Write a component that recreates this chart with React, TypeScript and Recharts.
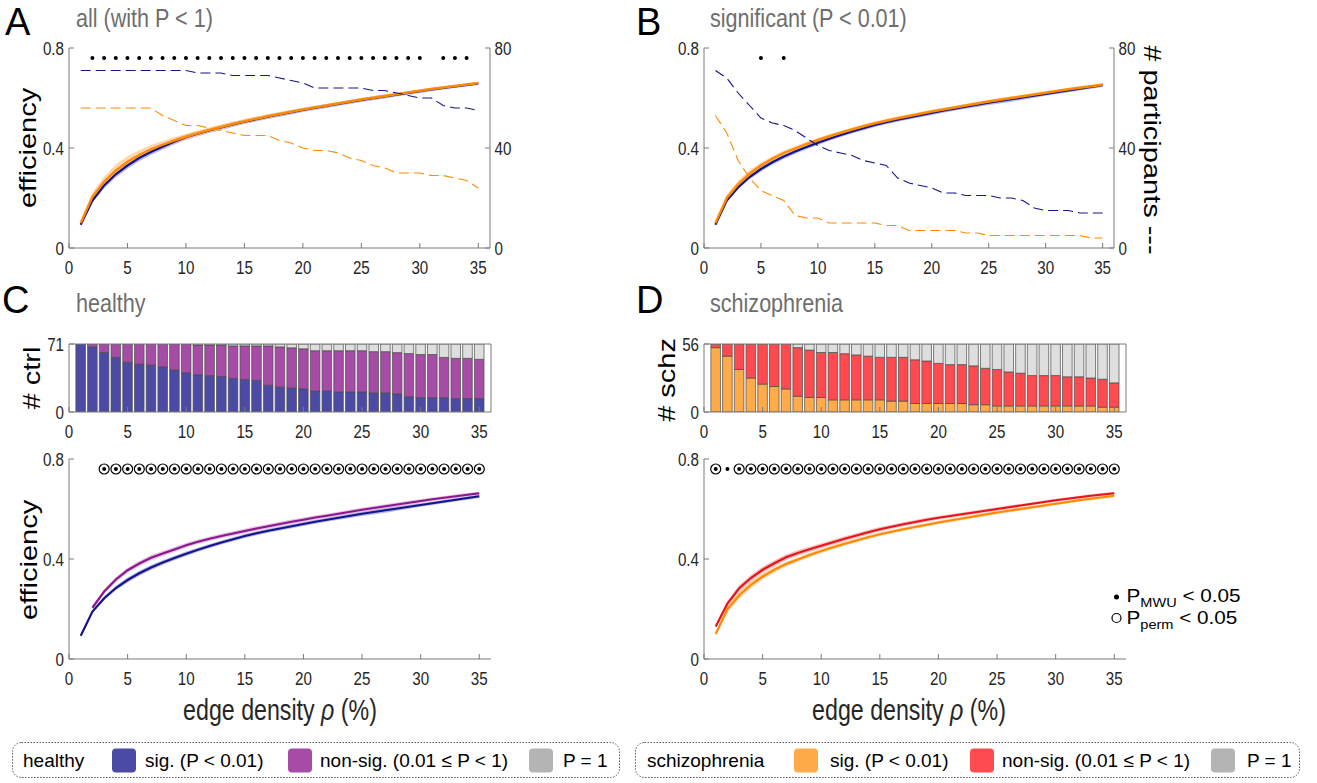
import React from "react";
import {
  ComposedChart,
  Line,
  Area,
  Bar,
  Scatter,
  XAxis,
  YAxis,
  ReferenceLine,
} from "recharts";

// edge density (%) shared by every panel
const DENSITY = [
  1, 2, 3, 4, 5, 6, 7, 8, 9, 10, 11, 12, 13, 14, 15, 16, 17, 18, 19, 20,
  21, 22, 23, 24, 25, 26, 27, 28, 29, 30, 31, 32, 33, 34, 35,
];
const X_TICKS = [0, 5, 10, 15, 20, 25, 30, 35];

// group sizes
const N_HEALTHY = 71;
const N_SCHZ = 56;

// participants with P < 1 and with P < 0.01
const HEALTHY_ALL_N = [
  71, 71, 71, 71, 71, 71, 71, 71, 71, 71, 70, 70, 70, 69, 69, 69, 69, 68, 67, 66,
  64, 64, 64, 64, 64, 63, 63, 62, 61, 60, 60, 57, 56, 56, 55,
];
const HEALTHY_SIG_N = [
  71, 68, 62, 57, 52, 50, 49, 47, 44, 41, 39, 38, 37, 35, 34, 33, 28, 26, 25, 24,
  22, 22, 21, 21, 21, 20, 20, 19, 16, 15, 15, 15, 14, 14, 14,
];
const SCHZ_ALL_N = [
  56, 56, 56, 56, 56, 56, 56, 53, 51, 49, 49, 48, 47, 46, 45, 45, 45, 43, 42, 40,
  39, 39, 38, 36, 35, 33, 32, 30, 30, 30, 29, 29, 28, 27, 24,
];
const SCHZ_SIG_N = [
  53, 46, 35, 28, 23, 21, 19, 13, 12, 12, 10, 10, 10, 10, 10, 9, 9, 7, 7, 7,
  7, 7, 6, 6, 5, 5, 5, 5, 5, 5, 5, 5, 5, 4, 4,
];

// mean efficiency per group
const EFF_HEALTHY_ALL = [
  0.093, 0.19, 0.25, 0.295, 0.33, 0.36, 0.384, 0.405, 0.425, 0.443, 0.457, 0.47,
  0.482, 0.494, 0.505, 0.515, 0.525, 0.534, 0.543, 0.552, 0.56, 0.568, 0.576,
  0.584, 0.592, 0.599, 0.606, 0.613, 0.62, 0.627, 0.634, 0.64, 0.646, 0.652, 0.658,
];
const EFF_SCHZ_ALL = [
  0.1, 0.205, 0.265, 0.31, 0.345, 0.372, 0.395, 0.413, 0.43, 0.445, 0.459, 0.472,
  0.484, 0.496, 0.507, 0.517, 0.527, 0.536, 0.545, 0.554, 0.562, 0.57, 0.578,
  0.586, 0.594, 0.601, 0.608, 0.615, 0.622, 0.629, 0.636, 0.642, 0.648, 0.654, 0.66,
];
const EFF_HEALTHY_SIG = [
  0.093, 0.19, 0.243, 0.284, 0.316, 0.343, 0.366, 0.386, 0.404, 0.421, 0.437,
  0.452, 0.466, 0.479, 0.492, 0.503, 0.513, 0.522, 0.531, 0.54, 0.549, 0.557,
  0.565, 0.573, 0.581, 0.588, 0.595, 0.602, 0.609, 0.616, 0.623, 0.63, 0.637,
  0.644, 0.651,
];
const EFF_HEALTHY_NON = [
  null, 0.205, 0.27, 0.318, 0.355, 0.382, 0.405, 0.422, 0.438, 0.455, 0.469,
  0.481, 0.492, 0.502, 0.512, 0.522, 0.531, 0.54, 0.549, 0.557, 0.566, 0.573,
  0.581, 0.589, 0.597, 0.604, 0.611, 0.618, 0.625, 0.632, 0.639, 0.645, 0.651,
  0.657, 0.663,
];
const EFF_SCHZ_SIG = [
  0.1, 0.2, 0.255, 0.297, 0.33, 0.357, 0.38, 0.398, 0.416, 0.432, 0.447, 0.461,
  0.474, 0.487, 0.499, 0.509, 0.519, 0.528, 0.537, 0.546, 0.554, 0.562, 0.57,
  0.578, 0.586, 0.593, 0.6, 0.607, 0.614, 0.621, 0.628, 0.635, 0.641, 0.647, 0.653,
];
const EFF_SCHZ_NON = [
  0.13, 0.222, 0.283, 0.324, 0.357, 0.383, 0.407, 0.424, 0.439, 0.453, 0.467,
  0.481, 0.494, 0.507, 0.519, 0.529, 0.539, 0.548, 0.557, 0.565, 0.572, 0.579,
  0.586, 0.593, 0.6, 0.607, 0.614, 0.621, 0.628, 0.635, 0.641, 0.647, 0.653,
  0.658, 0.663,
];

// half-width of the shaded error bands
const SPREAD_HEALTHY_ALL = [
  0.003, 0.009, 0.011, 0.013, 0.013, 0.013, 0.012, 0.012, 0.011, 0.011, 0.01, 0.01,
  0.01, 0.01, 0.009, 0.009, 0.009, 0.009, 0.009, 0.008, 0.008, 0.008, 0.008,
  0.008, 0.008, 0.008, 0.008, 0.007, 0.007, 0.007, 0.007, 0.006, 0.006, 0.006, 0.006,
];
const SPREAD_SCHZ_ALL = [
  0.004, 0.016, 0.02, 0.024, 0.022, 0.019, 0.017, 0.015, 0.013, 0.012, 0.011, 0.01,
  0.01, 0.009, 0.009, 0.008, 0.008, 0.008, 0.007, 0.007, 0.007, 0.006, 0.006,
  0.006, 0.006, 0.006, 0.006, 0.005, 0.005, 0.005, 0.005, 0.005, 0.005, 0.005, 0.005,
];
const SPREAD_HEALTHY_SIG = [
  0.003, 0.006, 0.008, 0.009, 0.01, 0.01, 0.01, 0.009, 0.009, 0.009, 0.008, 0.008,
  0.008, 0.008, 0.008, 0.008, 0.008, 0.008, 0.008, 0.008, 0.008, 0.008, 0.008,
  0.009, 0.009, 0.01, 0.01, 0.009, 0.008, 0.007, 0.007, 0.007, 0.007, 0.007, 0.007,
];
const SPREAD_HEALTHY_NON = [
  0, 0.006, 0.008, 0.01, 0.01, 0.01, 0.011, 0.01, 0.01, 0.009, 0.009, 0.009,
  0.009, 0.009, 0.009, 0.009, 0.009, 0.009, 0.009, 0.009, 0.008, 0.008, 0.008,
  0.008, 0.008, 0.008, 0.008, 0.008, 0.008, 0.007, 0.007, 0.007, 0.007, 0.007, 0.007,
];
const SPREAD_SCHZ_SIG = [
  0.004, 0.013, 0.015, 0.014, 0.012, 0.011, 0.01, 0.009, 0.009, 0.008, 0.008,
  0.008, 0.008, 0.007, 0.007, 0.007, 0.007, 0.007, 0.007, 0.007, 0.007, 0.007,
  0.007, 0.007, 0.007, 0.007, 0.007, 0.006, 0.006, 0.006, 0.006, 0.006, 0.006, 0.006, 0.006,
];
const SPREAD_SCHZ_NON = [
  0.006, 0.01, 0.012, 0.012, 0.012, 0.012, 0.011, 0.011, 0.01, 0.01, 0.01, 0.01,
  0.009, 0.009, 0.009, 0.008, 0.008, 0.008, 0.008, 0.007, 0.007, 0.007, 0.007,
  0.007, 0.007, 0.007, 0.006, 0.006, 0.006, 0.006, 0.006, 0.006, 0.006, 0.006, 0.006,
];

// significance flags: Mann-Whitney U (dot) and permutation test (circle)
const MWU_ALL = [
  0, 1, 1, 1, 1, 1, 1, 1, 1, 1, 1, 1, 1, 1, 1, 1, 1, 1, 1, 1,
  1, 1, 1, 1, 1, 1, 1, 1, 1, 1, 0, 1, 1, 1, 0,
];
const MWU_SIG = [
  0, 0, 0, 0, 1, 0, 1, 0, 0, 0, 0, 0, 0, 0, 0, 0, 0, 0, 0, 0,
  0, 0, 0, 0, 0, 0, 0, 0, 0, 0, 0, 0, 0, 0, 0,
];
const MWU_HEALTHY = [
  0, 0, 1, 1, 1, 1, 1, 1, 1, 1, 1, 1, 1, 1, 1, 1, 1, 1, 1, 1,
  1, 1, 1, 1, 1, 1, 1, 1, 1, 1, 1, 1, 1, 1, 1,
];
const PERM_HEALTHY = [
  0, 0, 1, 1, 1, 1, 1, 1, 1, 1, 1, 1, 1, 1, 1, 1, 1, 1, 1, 1,
  1, 1, 1, 1, 1, 1, 1, 1, 1, 1, 1, 1, 1, 1, 1,
];
const MWU_SCHZ = [
  1, 1, 1, 1, 1, 1, 1, 1, 1, 1, 1, 1, 1, 1, 1, 1, 1, 1, 1, 1,
  1, 1, 1, 1, 1, 1, 1, 1, 1, 1, 1, 1, 1, 1, 1,
];
const PERM_SCHZ = [
  1, 0, 1, 1, 1, 1, 1, 1, 1, 1, 1, 1, 1, 1, 1, 1, 1, 1, 1, 1,
  1, 1, 1, 1, 1, 1, 1, 1, 1, 1, 1, 1, 1, 1, 1,
];

const MARK_Y = 0.76;

const FONT = '"Liberation Sans", Arial, Helvetica, sans-serif';
const AXIS = "#7a7a7a";
const INK = "#262626";
const TITLE = "#6e6e6e";

const NAVY = "#14148c";
const ORANGE = "#ff8a00";
const PURPLE = "#8e168e";
const RED = "#e8141c";
const NAVY_BAND = "#a4a4df";
const ORANGE_BAND = "#ffca96";
const PURPLE_BAND = "#d9b0d9";
const RED_BAND = "#f6acac";

const BAR_BLUE = "#4b4ba6";
const BAR_PURPLE = "#a64ca6";
const BAR_GRAY = "#dedede";
const BAR_ORANGE = "#ffab4a";
const BAR_RED = "#ff4b4f";
const LEGEND_GRAY = "#b4b4b4";

const band = (v: number | null, s: number) => (v == null ? null : [v - s, v + s]);

const rows = DENSITY.map((x, i) => ({
  x,
  hAll: EFF_HEALTHY_ALL[i],
  hAllBand: band(EFF_HEALTHY_ALL[i], SPREAD_HEALTHY_ALL[i]),
  sAll: EFF_SCHZ_ALL[i],
  sAllBand: band(EFF_SCHZ_ALL[i], SPREAD_SCHZ_ALL[i]),
  hSig: EFF_HEALTHY_SIG[i],
  hSigBand: band(EFF_HEALTHY_SIG[i], SPREAD_HEALTHY_SIG[i]),
  hNon: EFF_HEALTHY_NON[i],
  hNonBand: band(EFF_HEALTHY_NON[i], SPREAD_HEALTHY_NON[i]),
  sSig: EFF_SCHZ_SIG[i],
  sSigBand: band(EFF_SCHZ_SIG[i], SPREAD_SCHZ_SIG[i]),
  sNon: EFF_SCHZ_NON[i],
  sNonBand: band(EFF_SCHZ_NON[i], SPREAD_SCHZ_NON[i]),
  hAllN: HEALTHY_ALL_N[i],
  hSigN: HEALTHY_SIG_N[i],
  sAllN: SCHZ_ALL_N[i],
  sSigN: SCHZ_SIG_N[i],
  // stacked bar segments
  hBarSig: HEALTHY_SIG_N[i],
  hBarNon: HEALTHY_ALL_N[i] - HEALTHY_SIG_N[i],
  hBarOne: N_HEALTHY - HEALTHY_ALL_N[i],
  sBarSig: SCHZ_SIG_N[i],
  sBarNon: SCHZ_ALL_N[i] - SCHZ_SIG_N[i],
  sBarOne: N_SCHZ - SCHZ_ALL_N[i],
}));

const marks = (flags: number[]) =>
  DENSITY.filter((_, i) => flags[i]).map((x) => ({ x, y: MARK_Y }));

const fmt = (v: number) => String(v);

function XTick(props: any) {
  const { x, y, payload } = props;
  return (
    <g>
      <line x1={x} x2={x} y1={y} y2={y - 5} stroke={AXIS} strokeWidth={1} />
      <text
        transform={`translate(${x},${y + 25.5}) scale(0.82,1)`}
        textAnchor="middle"
        fontSize={18.5}
        fontFamily={FONT}
        fill={INK}
      >
        {fmt(payload.value)}
      </text>
    </g>
  );
}

function YTickLeft(props: any) {
  const { x, y, payload } = props;
  return (
    <g>
      <line x1={x} x2={x + 5} y1={y} y2={y} stroke={AXIS} strokeWidth={1} />
      <text
        transform={`translate(${x - 5},${y + 6.7}) scale(0.82,1)`}
        textAnchor="end"
        fontSize={18.5}
        fontFamily={FONT}
        fill={INK}
      >
        {fmt(payload.value)}
      </text>
    </g>
  );
}

function YTickRight(props: any) {
  const { x, y, payload } = props;
  return (
    <g>
      <line x1={x} x2={x - 5} y1={y} y2={y} stroke={AXIS} strokeWidth={1} />
      <text
        transform={`translate(${x + 4.5},${y + 6.7}) scale(0.82,1)`}
        textAnchor="start"
        fontSize={18.5}
        fontFamily={FONT}
        fill={INK}
      >
        {fmt(payload.value)}
      </text>
    </g>
  );
}

const dotShape = (p: any) => <circle cx={p.cx} cy={p.cy} r={2} fill="#000" />;
const ringShape = (p: any) => (
  <circle cx={p.cx} cy={p.cy} r={5} fill="none" stroke="#000" strokeWidth={1.2} />
);

const xAxisProps = {
  dataKey: "x",
  type: "number" as const,
  domain: [0, 36],
  ticks: X_TICKS,
  tickSize: 0,
  tickMargin: 0,
  tick: XTick,
  axisLine: { stroke: AXIS },
  tickLine: false,
  height: 30,
  allowDataOverflow: true,
};

const effAxisProps = {
  yAxisId: "l",
  type: "number" as const,
  domain: [0, 0.8],
  ticks: [0, 0.4, 0.8],
  tickSize: 0,
  tickMargin: 0,
  tick: YTickLeft,
  axisLine: { stroke: AXIS },
  tickLine: false,
  width: 30,
  allowDataOverflow: true,
};

const countAxisProps = {
  yAxisId: "r",
  orientation: "right" as const,
  type: "number" as const,
  domain: [0, 80],
  ticks: [0, 40, 80],
  tickSize: 0,
  tickMargin: 0,
  tick: YTickRight,
  axisLine: { stroke: AXIS },
  tickLine: false,
  width: 30,
};

function RangeBand({ dataKey, fill }: { dataKey: string; fill: string }) {
  return (
    <Area
      yAxisId="l"
      dataKey={dataKey}
      type="linear"
      stroke="none"
      fill={fill}
      fillOpacity={0.8}
      isAnimationActive={false}
      activeDot={false}
    />
  );
}

function MeanLine({ dataKey, color, width = 2.2 }: { dataKey: string; color: string; width?: number }) {
  return (
    <Line
      yAxisId="l"
      dataKey={dataKey}
      type="linear"
      stroke={color}
      strokeWidth={width}
      dot={false}
      activeDot={false}
      isAnimationActive={false}
    />
  );
}

function CountLine({ dataKey, color }: { dataKey: string; color: string }) {
  return (
    <Line
      yAxisId="r"
      dataKey={dataKey}
      type="linear"
      stroke={color}
      strokeWidth={1.1}
      strokeDasharray="10 5"
      dot={false}
      activeDot={false}
      isAnimationActive={false}
    />
  );
}

// top row: efficiency with participant counts on the right axis
function TopPanel(props: {
  left: number;
  marginLeft: number;
  marginRight: number;
  band1: string;
  band2: string;
  line1: string;
  line2: string;
  count1: string;
  count2: string;
  flags: number[];
}) {
  const { left, marginLeft, marginRight, band1, band2, line1, line2, count1, count2, flags } = props;
  return (
    <div style={{ position: "absolute", left, top: 0 }}>
      <ComposedChart
        width={560}
        height={290}
        data={rows}
        margin={{ top: 48, bottom: 12, left: marginLeft, right: marginRight }}
      >
        <XAxis {...xAxisProps} />
        <YAxis {...effAxisProps} />
        <YAxis {...countAxisProps} />
        <RangeBand dataKey={band1} fill={NAVY_BAND} />
        <RangeBand dataKey={band2} fill={ORANGE_BAND} />
        <MeanLine dataKey={line1} color={NAVY} />
        <MeanLine dataKey={line2} color={ORANGE} width={2.4} />
        <CountLine dataKey={count1} color={NAVY} />
        <CountLine dataKey={count2} color={ORANGE} />
        <Scatter
          yAxisId="l"
          data={marks(flags)}
          dataKey="y"
          shape={dotShape}
          isAnimationActive={false}
        />
      </ComposedChart>
    </div>
  );
}

// stacked counts of significant / non-significant / P = 1 participants
function CountBars(props: {
  left: number;
  marginLeft: number;
  total: number;
  keys: [string, string, string];
  colors: [string, string, string];
}) {
  const { left, marginLeft, total, keys, colors } = props;
  return (
    <div style={{ position: "absolute", left, top: 290 }}>
      <ComposedChart
        width={560}
        height={160}
        data={rows}
        margin={{ top: 54, bottom: 8, left: marginLeft, right: 560 - marginLeft - 30 - 422 }}
      >
        <XAxis {...xAxisProps} />
        <YAxis
          {...effAxisProps}
          domain={[0, total]}
          ticks={[0, total]}
        />
        {keys.map((k, i) => (
          <Bar
            key={k}
            yAxisId="l"
            dataKey={k}
            stackId="n"
            fill={colors[i]}
            stroke="#4a4a4a"
            strokeWidth={0.7}
            barSize={9.6}
            isAnimationActive={false}
          />
        ))}
        <ReferenceLine yAxisId="l" y={total} stroke={AXIS} strokeWidth={1} />
        <ReferenceLine yAxisId="l" x={36} stroke={AXIS} strokeWidth={1} />
      </ComposedChart>
    </div>
  );
}

// efficiency of significant vs non-significant participants within a group
function GroupPanel(props: {
  left: number;
  marginLeft: number;
  sigBand: string;
  nonBand: string;
  sig: string;
  non: string;
  sigColor: string;
  nonColor: string;
  sigFill: string;
  nonFill: string;
  mwu: number[];
  perm: number[];
  nonOnTop: boolean;
}) {
  const p = props;
  const sigLine = <MeanLine key="s" dataKey={p.sig} color={p.sigColor} />;
  const nonLine = <MeanLine key="n" dataKey={p.non} color={p.nonColor} />;
  return (
    <div style={{ position: "absolute", left: p.left, top: 430 }}>
      <ComposedChart
        width={560}
        height={300}
        data={rows}
        margin={{ top: 29, bottom: 41, left: p.marginLeft, right: 560 - p.marginLeft - 30 - 422 }}
      >
        <XAxis {...xAxisProps} />
        <YAxis {...effAxisProps} />
        <RangeBand dataKey={p.sigBand} fill={p.sigFill} />
        <RangeBand dataKey={p.nonBand} fill={p.nonFill} />
        {p.nonOnTop ? [sigLine, nonLine] : [nonLine, sigLine]}
        <Scatter
          yAxisId="l"
          data={marks(p.perm)}
          dataKey="y"
          shape={ringShape}
          isAnimationActive={false}
        />
        <Scatter
          yAxisId="l"
          data={marks(p.mwu)}
          dataKey="y"
          shape={dotShape}
          isAnimationActive={false}
        />
      </ComposedChart>
    </div>
  );
}

function T(props: {
  x: number;
  y: number;
  size: number;
  sx?: number;
  rotate?: number;
  anchor?: "start" | "middle" | "end";
  fill?: string;
  children: React.ReactNode;
}) {
  const { x, y, size, sx = 1, rotate = 0, anchor = "start", fill = INK, children } = props;
  return (
    <text
      transform={`translate(${x},${y}) scale(${sx},1)${rotate ? ` rotate(${rotate})` : ""}`}
      fontSize={size}
      fontFamily={FONT}
      textAnchor={anchor}
      fill={fill}
    >
      {children}
    </text>
  );
}

const Swatch = ({ x, color }: { x: number; color: string }) => (
  <rect x={x} y={748.5} width={24} height={24} rx={4} fill={color} />
);

function Annotations() {
  const rho = (
    <>
      edge density <tspan fontStyle="italic">ρ</tspan> (%)
    </>
  );
  return (
    <svg
      width={1317}
      height={783}
      style={{ position: "absolute", left: 0, top: 0, pointerEvents: "none" }}
    >
      {/* panel letters and titles */}
      <T x={5} y={35} size={38} fill="#000">A</T>
      <T x={636} y={35} size={38} fill="#000">B</T>
      <T x={2} y={313} size={38} fill="#000">C</T>
      <T x={636} y={313} size={38} fill="#000">D</T>
      <T x={76} y={27} size={26} sx={0.83} fill={TITLE}>all (with P &lt; 1)</T>
      <T x={710} y={27} size={26} sx={0.83} fill={TITLE}>significant (P &lt; 0.01)</T>
      <T x={76} y={312} size={26} sx={0.83} fill={TITLE}>healthy</T>
      <T x={710} y={312} size={26} sx={0.83} fill={TITLE}>schizophrenia</T>

      {/* axis titles */}
      <T x={36} y={148} size={29} sx={0.83} rotate={-90} anchor="middle" fill="#000">efficiency</T>
      <T x={1143.5} y={150} size={29} sx={0.83} rotate={90} anchor="middle" fill="#000"># participants ---</T>
      <T x={40} y={378} size={29} sx={0.83} rotate={-90} anchor="middle" fill="#000"># ctrl</T>
      <T x={675} y={380} size={29} sx={0.83} rotate={-90} anchor="middle" fill="#000"># schz</T>
      <T x={36.5} y={560} size={29} sx={0.83} rotate={-90} anchor="middle" fill="#000">efficiency</T>
      <T x={280} y={720} size={29} sx={0.8} anchor="middle">{rho}</T>
      <T x={909} y={720} size={29} sx={0.8} anchor="middle">{rho}</T>

      {/* significance key */}
      <circle cx={1116.5} cy={597} r={2.5} fill="#000" />
      <T x={1126.5} y={602} size={18.5} sx={1.12} fill="#000">
        P<tspan fontSize={13} dy={5}>MWU</tspan>
        <tspan dy={-5}> &lt; 0.05</tspan>
      </T>
      <circle cx={1116.5} cy={618} r={4.5} fill="none" stroke="#000" strokeWidth={1.2} />
      <T x={1126.5} y={624} size={18.5} sx={1.12} fill="#000">
        P<tspan fontSize={13} dy={5}>perm</tspan>
        <tspan dy={-5}> &lt; 0.05</tspan>
      </T>

      {/* group legends */}
      <rect x={12.5} y={742.5} width={607} height={35} rx={9} fill="none" stroke="#555" strokeWidth={1} strokeDasharray="1.5 1.5" />
      <rect x={635.5} y={742.5} width={664} height={35} rx={9} fill="none" stroke="#555" strokeWidth={1} strokeDasharray="1.5 1.5" />
      <T x={23} y={766.5} size={19} fill="#000">healthy</T>
      <Swatch x={112} color={BAR_BLUE} />
      <T x={145} y={766.5} size={19} fill="#000">sig. (P &lt; 0.01)</T>
      <Swatch x={288} color={BAR_PURPLE} />
      <T x={320} y={766.5} size={19} fill="#000">non-sig. (0.01 ≤ P &lt; 1)</T>
      <Swatch x={529} color={LEGEND_GRAY} />
      <T x={563} y={766.5} size={19} fill="#000">P = 1</T>
      <T x={647} y={766.5} size={19} fill="#000">schizophrenia</T>
      <Swatch x={794} color={BAR_ORANGE} />
      <T x={830} y={766.5} size={19} fill="#000">sig. (P &lt; 0.01)</T>
      <Swatch x={970} color={BAR_RED} />
      <T x={1002} y={766.5} size={19} fill="#000">non-sig. (0.01 ≤ P &lt; 1)</T>
      <Swatch x={1211} color={LEGEND_GRAY} />
      <T x={1247} y={766.5} size={19} fill="#000">P = 1</T>
    </svg>
  );
}

export default function App() {
  return (
    <div
      style={{
        position: "absolute",
        left: 0,
        top: 0,
        width: 1317,
        height: 783,
        background: "#fff",
        overflow: "hidden",
      }}
    >
      <TopPanel
        left={0}
        marginLeft={39}
        marginRight={40}
        band1="hAllBand"
        band2="sAllBand"
        line1="hAll"
        line2="sAll"
        count1="hAllN"
        count2="sAllN"
        flags={MWU_ALL}
      />
      <TopPanel
        left={650}
        marginLeft={24}
        marginRight={66}
        band1="hSigBand"
        band2="sSigBand"
        line1="hSig"
        line2="sSig"
        count1="hSigN"
        count2="sSigN"
        flags={MWU_SIG}
      />
      <CountBars
        left={0}
        marginLeft={39}
        total={N_HEALTHY}
        keys={["hBarSig", "hBarNon", "hBarOne"]}
        colors={[BAR_BLUE, BAR_PURPLE, BAR_GRAY]}
      />
      <CountBars
        left={650}
        marginLeft={24}
        total={N_SCHZ}
        keys={["sBarSig", "sBarNon", "sBarOne"]}
        colors={[BAR_ORANGE, BAR_RED, BAR_GRAY]}
      />
      <GroupPanel
        left={0}
        marginLeft={39}
        sigBand="hSigBand"
        nonBand="hNonBand"
        sig="hSig"
        non="hNon"
        sigColor={NAVY}
        nonColor={PURPLE}
        sigFill={NAVY_BAND}
        nonFill={PURPLE_BAND}
        mwu={MWU_HEALTHY}
        perm={PERM_HEALTHY}
        nonOnTop={false}
      />
      <GroupPanel
        left={650}
        marginLeft={24}
        sigBand="sSigBand"
        nonBand="sNonBand"
        sig="sSig"
        non="sNon"
        sigColor={ORANGE}
        nonColor={RED}
        sigFill={ORANGE_BAND}
        nonFill={RED_BAND}
        mwu={MWU_SCHZ}
        perm={PERM_SCHZ}
        nonOnTop={true}
      />
      <Annotations />
    </div>
  );
}
